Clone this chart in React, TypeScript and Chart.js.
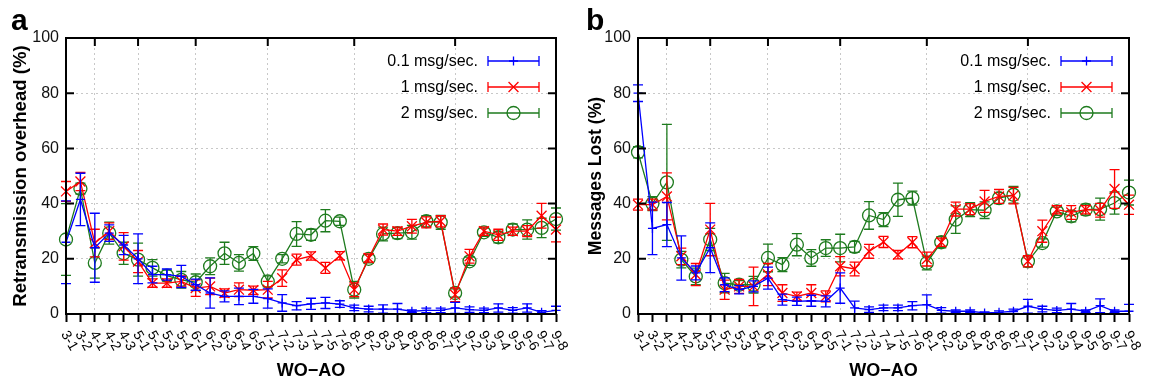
import React, { useEffect, useRef } from 'react';
import { Chart, registerables } from 'chart.js';

Chart.register(...registerables);

// ---------- data ----------
const categories = [
  '3-1', '3-2',
  '4-1', '4-2', '4-3',
  '5-1', '5-2', '5-3', '5-4',
  '6-1', '6-2', '6-3', '6-4', '6-5',
  '7-1', '7-2', '7-3', '7-4', '7-5', '7-6',
  '8-1', '8-2', '8-3', '8-4', '8-5', '8-6', '8-7',
  '9-1', '9-2', '9-3', '9-4', '9-5', '9-6', '9-7', '9-8',
];
const yTickValues = [0, 20, 40, 60, 80, 100];
const seriesNames = ['0.1 msg/sec.', '1 msg/sec.', '2 msg/sec.'];

// panel a: retransmission overhead (%)
const retrans01 = [26, 41.5, 24, 29.3, 25, 20, 14.3, 14.3, 13.6, 10.6, 7.6, 6.4, 6.4, 6.4, 5.6, 4, 3, 3.7, 4, 3.6, 2.2, 1.8, 1.8, 1.8, 1, 1.3, 1.3, 2.2, 1.6, 1.3, 2.2, 1.3, 2.2, 0.6, 1.3];
const retrans01Err = [15, 9.5, 12.5, 3, 3.5, 9, 3, 2, 4, 2, 5.5, 2, 3, 2.5, 3.5, 3, 1.5, 2, 2, 1.2, 1, 1, 1.5, 2, 0.5, 0.8, 0.8, 2, 1, 0.8, 1.5, 1, 1.5, 0.6, 1.5];
const retrans1 = [44.4, 48, 25.7, 30, 24.5, 19, 11.2, 11.2, 11.8, 9.4, 10, 7.6, 8.8, 8.6, 8.8, 13, 19.7, 21, 16.7, 21.1, 8.8, 20.3, 30.6, 30, 31.8, 33.2, 33.6, 7, 20.9, 30, 28.7, 30, 30, 35.6, 30.6];
const retrans1Err = [3.6, 3.3, 5, 3, 5, 4, 1.5, 1.5, 2, 3, 3, 1.5, 2.5, 1.5, 3, 3, 2, 1.5, 2, 1.5, 2.5, 1.5, 2, 1.5, 2.5, 2, 2, 2.5, 2.5, 1.5, 2, 1.5, 2, 4.5, 4.5];
const retrans2 = [27, 45.4, 18.5, 29.3, 22, 19.7, 16.7, 13.9, 12.4, 11.5, 17.3, 22, 18.5, 21.9, 11.8, 20, 29, 28.7, 33.8, 33.6, 8.8, 20, 29, 29.3, 29.6, 33.6, 33.2, 7.6, 19.1, 29.6, 27.8, 30.6, 30.6, 31.2, 34.4];
const retrans2Err = [13, 2, 5.5, 4, 4, 6, 3, 2, 3, 3, 3, 4, 3, 2.5, 2, 1.5, 4.5, 2, 4, 1.5, 3, 1.5, 2.5, 2, 2.5, 2, 2.5, 1.5, 1.5, 1.5, 2, 2, 3.5, 3.5, 4];

// panel b: messages lost (%)
const lost01 = [80, 31, 32.4, 20.3, 14.9, 24, 10.6, 8.8, 10, 13, 5.2, 4.6, 4.8, 4.6, 9.4, 2.2, 1.6, 2.2, 2.2, 3, 3.4, 1.3, 1, 1, 0.4, 0.6, 1, 2.8, 1.8, 1.3, 1.8, 1, 3, 1, 1];
const lost01Err = [3, 9.5, 8, 8, 2.5, 9, 2.5, 1.5, 2, 4, 2, 1.5, 2, 2, 5.5, 2.5, 1, 1, 1, 1.5, 3.5, 1, 0.5, 0.5, 0.4, 0.5, 0.8, 2.5, 1, 0.8, 2, 0.5, 2.5, 0.5, 2.5];
const lost1 = [39.6, 39.6, 42.6, 20.9, 14.3, 30.6, 8.8, 10, 10, 14.3, 7.6, 6.4, 7.6, 6.4, 17.3, 16.3, 22.7, 26.1, 21.5, 26, 19.9, 26, 38, 38, 40.8, 42.6, 42.9, 19.1, 30, 37.8, 36.8, 37.8, 37.6, 45.3, 39.6];
const lost1Err = [2, 2, 8.5, 3, 4, 9.5, 3.5, 2.5, 7, 4, 3, 1.5, 3, 2, 3.5, 2.5, 2.5, 2, 1.5, 2, 2.5, 1.5, 2.5, 2, 4, 2.5, 3, 2, 4, 1.5, 2.5, 1.5, 2.5, 7, 3.5];
const lost2 = [58.6, 40, 47.7, 19.7, 13.6, 27, 11.2, 10.6, 10.6, 20.3, 17.9, 25.1, 20.3, 23.9, 23.9, 24.3, 35.7, 34.2, 41.4, 42, 18.5, 26, 34.2, 37.8, 37.6, 42, 43.2, 19.1, 25.7, 37.2, 35.4, 37.8, 38, 40.2, 44];
const lost2Err = [2, 2.5, 21, 3, 3, 4, 3.5, 1.5, 3, 5, 2.5, 4, 3, 3, 5, 2, 5, 2.5, 6, 2.5, 2.5, 2, 5, 2.5, 3, 2, 3, 2, 1.5, 1.5, 2, 2, 4, 4, 4.5];

// ---------- styling ----------
const FONT = '"Liberation Sans", Arial, Helvetica, sans-serif';
const colors = ['#0000ff', '#ff0000', '#1e7b1e'];
const markerStyles = ['cross', 'crossRot', 'circle'];
const markerRadii = [4.5, 7, 6.5];

type PanelDef = {
  letter: string;
  yTitle: string;
  yTitleSize: number;
  values: number[][];
  errors: number[][];
  yAxisWidth: number;
  rightPad: number;
};

const panels: PanelDef[] = [
  {
    letter: 'a',
    yTitle: 'Retransmission overhead (%)',
    yTitleSize: 18.6,
    values: [retrans01, retrans1, retrans2],
    errors: [retrans01Err, retrans1Err, retrans2Err],
    yAxisWidth: 66,
    rightPad: 19,
  },
  {
    letter: 'b',
    yTitle: 'Messages Lost (%)',
    yTitleSize: 17.6,
    values: [lost01, lost1, lost2],
    errors: [lost01Err, lost1Err, lost2Err],
    yAxisWidth: 63,
    rightPad: 21,
  },
];

const majorIdx = new Set(
  categories.map((c, i) => (i > 0 && c.endsWith('-1') ? i : -1)).filter((i) => i >= 0)
);

function drawMarker(ctx: CanvasRenderingContext2D, style: string, x: number, y: number, r: number) {
  ctx.beginPath();
  if (style === 'cross') {
    ctx.moveTo(x - r, y);
    ctx.lineTo(x + r, y);
    ctx.moveTo(x, y - r);
    ctx.lineTo(x, y + r);
  } else if (style === 'crossRot') {
    const d = r * Math.SQRT1_2;
    ctx.moveTo(x - d, y - d);
    ctx.lineTo(x + d, y + d);
    ctx.moveTo(x - d, y + d);
    ctx.lineTo(x + d, y - d);
  } else {
    ctx.arc(x, y, r, 0, Math.PI * 2);
  }
  ctx.stroke();
}

const errorBarPlugin = {
  id: 'errorBars',
  afterDatasetDraw(chart: any, args: any) {
    const ds = chart.data.datasets[args.index];
    const errs: number[] = ds.errors;
    if (!errs) return;
    const ys = chart.scales.y;
    const area = chart.chartArea;
    const ctx: CanvasRenderingContext2D = chart.ctx;
    ctx.save();
    ctx.beginPath();
    ctx.rect(area.left - 6, area.top, area.right - area.left + 12, area.bottom - area.top);
    ctx.clip();
    ctx.strokeStyle = ds.borderColor;
    ctx.lineWidth = 1.3;
    args.meta.data.forEach((pt: any, i: number) => {
      const v = ds.data[i];
      const e = errs[i];
      const x = pt.x;
      const y1 = ys.getPixelForValue(v - e);
      const y2 = ys.getPixelForValue(v + e);
      ctx.beginPath();
      ctx.moveTo(x, y1);
      ctx.lineTo(x, y2);
      ctx.moveTo(x - 5, y1);
      ctx.lineTo(x + 5, y1);
      ctx.moveTo(x - 5, y2);
      ctx.lineTo(x + 5, y2);
      ctx.stroke();
    });
    ctx.restore();
  },
};

function makeDecorPlugin(panel: PanelDef) {
  return {
    id: 'decor',
    afterDraw(chart: any) {
      const ctx: CanvasRenderingContext2D = chart.ctx;
      const area = chart.chartArea;
      const xs = chart.scales.x;
      const ys = chart.scales.y;
      ctx.save();

      // frame
      ctx.strokeStyle = '#000';
      ctx.lineWidth = 2;
      ctx.strokeRect(area.left, area.top, area.right - area.left, area.bottom - area.top);

      // inward y ticks on both sides
      ctx.beginPath();
      yTickValues.forEach((v) => {
        const y = ys.getPixelForValue(v);
        ctx.moveTo(area.left, y);
        ctx.lineTo(area.left + 8, y);
        ctx.moveTo(area.right, y);
        ctx.lineTo(area.right - 8, y);
      });
      // inward top ticks at group starts
      majorIdx.forEach((i) => {
        const x = xs.getPixelForValue(i);
        ctx.moveTo(x, area.top);
        ctx.lineTo(x, area.top + 8);
      });
      ctx.stroke();

      // rotated x tick labels
      ctx.fillStyle = '#000';
      ctx.font = `14px ${FONT}`;
      ctx.textAlign = 'left';
      ctx.textBaseline = 'middle';
      categories.forEach((lab, i) => {
        const x = xs.getPixelForValue(i);
        ctx.save();
        ctx.translate(x - 2, area.bottom + 18);
        ctx.rotate((60 * Math.PI) / 180);
        ctx.fillText(lab, 0, 0);
        ctx.restore();
      });

      // axis titles
      ctx.font = `bold 18px ${FONT}`;
      ctx.textAlign = 'center';
      ctx.textBaseline = 'middle';
      ctx.fillText('WO\u2212AO', (area.left + area.right) / 2, 371);
      ctx.save();
      ctx.font = `bold ${panel.yTitleSize}px ${FONT}`;
      ctx.translate(21, (area.top + area.bottom) / 2);
      ctx.rotate(-Math.PI / 2);
      ctx.fillText(panel.yTitle, 0, 0);
      ctx.restore();

      // panel letter
      ctx.font = `bold 30px ${FONT}`;
      ctx.textAlign = 'left';
      ctx.textBaseline = 'alphabetic';
      ctx.fillText(panel.letter, 11, 30);

      // legend
      const rowY = [61, 87, 113];
      seriesNames.forEach((name, k) => {
        const y = rowY[k];
        ctx.fillStyle = '#000';
        ctx.font = `16px ${FONT}`;
        ctx.textAlign = 'right';
        ctx.textBaseline = 'middle';
        ctx.fillText(name, area.right - 78, y + 1);
        const x1 = area.right - 68;
        const x2 = area.right - 17;
        ctx.strokeStyle = colors[k];
        ctx.lineWidth = 1.3;
        ctx.beginPath();
        ctx.moveTo(x1, y);
        ctx.lineTo(x2, y);
        ctx.moveTo(x1, y - 5);
        ctx.lineTo(x1, y + 5);
        ctx.moveTo(x2, y - 5);
        ctx.lineTo(x2, y + 5);
        ctx.stroke();
        drawMarker(ctx, markerStyles[k], (x1 + x2) / 2, y, markerRadii[k]);
      });

      ctx.restore();
    },
  };
}

function PanelChart({ panel }: { panel: PanelDef }) {
  const ref = useRef<HTMLCanvasElement>(null);
  useEffect(() => {
    if (!ref.current) return;
    const chart = new Chart(ref.current, {
      type: 'line',
      data: {
        labels: categories,
        datasets: panel.values.map((vals, k) => ({
          label: seriesNames[k],
          data: vals,
          errors: panel.errors[k],
          borderColor: colors[k],
          backgroundColor: 'rgba(0,0,0,0)',
          borderWidth: 1.3,
          pointStyle: markerStyles[k],
          pointRadius: markerRadii[k],
          pointBorderColor: colors[k],
          pointBackgroundColor: 'rgba(0,0,0,0)',
          pointBorderWidth: 1.3,
          tension: 0,
          fill: false,
        })) as any,
      },
      options: {
        responsive: false,
        animation: false,
        events: [],
        layout: { padding: { top: 38, right: panel.rightPad, left: 0, bottom: 0 } },
        plugins: { legend: { display: false }, tooltip: { enabled: false } },
        scales: {
          x: {
            type: 'category',
            offset: false,
            ticks: { display: false },
            grid: {
              color: (c: any) => (majorIdx.has(c.index) ? '#c8c8c8' : 'rgba(0,0,0,0)'),
              lineWidth: 1,
              drawTicks: true,
              tickColor: '#000',
              tickLength: 8,
              tickWidth: 2,
            },
            border: { display: false, dash: [2, 3] },
            afterFit: (s: any) => {
              s.height = 70;
            },
          },
          y: {
            min: 0,
            max: 100,
            ticks: {
              stepSize: 20,
              color: '#111',
              padding: 7,
              font: { family: FONT, size: 16 },
            },
            grid: { color: '#c8c8c8', lineWidth: 1, drawTicks: false },
            border: { display: false, dash: [2, 3] },
            afterFit: (s: any) => {
              s.width = panel.yAxisWidth;
            },
          },
        },
      } as any,
      plugins: [errorBarPlugin, makeDecorPlugin(panel)],
    });
    return () => chart.destroy();
  }, [panel]);
  return <canvas ref={ref} width={575} height={384} style={{ display: 'block' }} />;
}

export default function App() {
  return (
    <div
      style={{
        position: 'absolute',
        left: 0,
        top: 0,
        width: 1150,
        height: 384,
        display: 'flex',
        background: '#fff',
        overflow: 'hidden',
      }}
    >
      {panels.map((p) => (
        <PanelChart key={p.letter} panel={p} />
      ))}
    </div>
  );
}
